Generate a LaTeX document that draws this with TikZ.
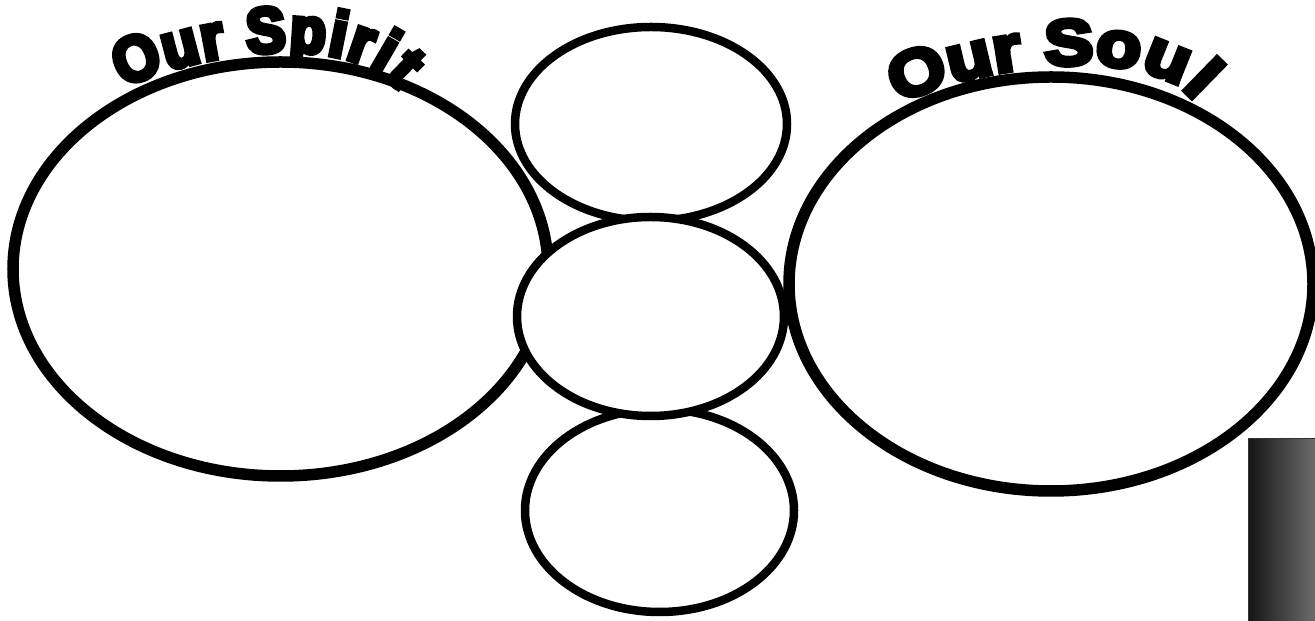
\documentclass[tikz,border=0pt]{standalone}
\usepackage{fontspec}
\newfontfamily\spiritfont[UprightFont={* Bold}, FakeBold=8, FakeStretch=0.92]{Liberation Sans}
\newfontfamily\soulfont[UprightFont={* Bold}, FakeBold=8, FakeStretch=1.15]{Liberation Sans}
\usetikzlibrary{decorations.text}
\tikzset{
  bigoval/.style={draw=black, line width=11.5pt, fill=none},
  smalloval/.style={draw=black, line width=8.5pt},
  arctitle/.style 2 args={decorate, decoration={text along path, text align={fit to path},
     text={|#1|#2}}}
}
\begin{document}
\begin{tikzpicture}[x=1pt,y=1pt]
\useasboundingbox (0,0) rectangle (1315,621);
\clip (0,0) rectangle (1315,621);
% big ovals
\draw[bigoval] (280.5,352) ellipse [x radius=267.5, y radius=207];
\draw[bigoval] (1051,337) ellipse [x radius=262, y radius=207];
% small ovals
\draw[smalloval] (651,497) ellipse [x radius=136, y radius=97];
\draw[smalloval] (659.5,110.5) ellipse [x radius=134.5, y radius=101.5];
\draw[smalloval, fill=white] (650.5,304.5) ellipse [x radius=133.5, y radius=99.5];
% gray bar
\draw[draw=black!80, line width=1pt, left color=black!92, right color=black!55, shading=axis, shading angle=90]
  (1248,-5) rectangle (1320,182);
% titles
\path[arctitle={\spiritfont\fontsize{64}{64}\selectfont}{Our Spirit}] (123,533) .. controls (195,569) and (350,593) .. (398,531);
\path[arctitle={\soulfont\fontsize{64}{64}\selectfont}{Our Soul}] (898,517) .. controls (975,556) and (1150,581) .. (1195,519);
\end{tikzpicture}
\end{document}
